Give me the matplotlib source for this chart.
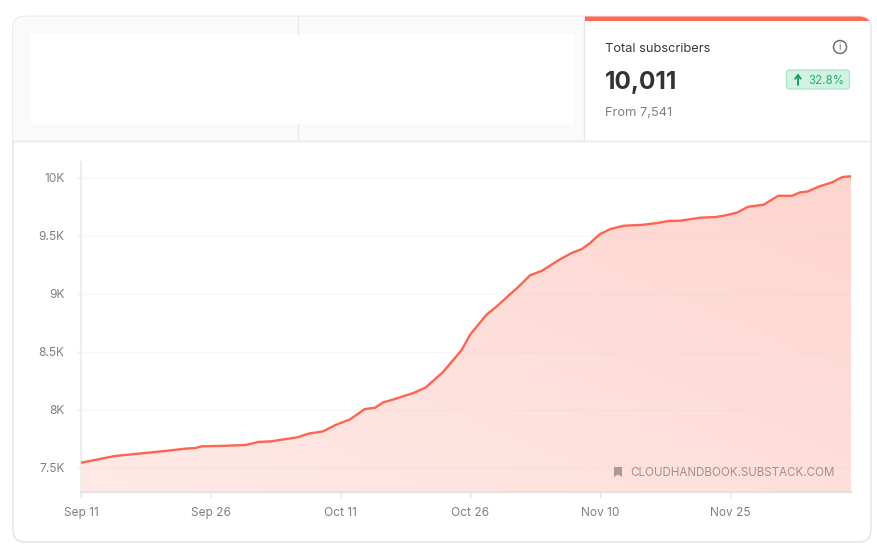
import matplotlib
matplotlib.use('Agg')
import matplotlib.pyplot as plt
from matplotlib.patches import FancyBboxPatch, Rectangle, Circle, Polygon
import numpy as np

plt.rcParams['font.family'] = ['Inter', 'DejaVu Sans']

# days since Sep 11, subscribers
days = [0, 3.9, 7, 9.7, 12, 13.2, 14, 16.3, 19, 20.5, 22, 23.2, 25, 26.3, 28, 29.4,
        31.1, 32.8, 34, 34.9, 36, 38.4, 39.8, 41.8, 44, 45, 46.9, 48, 49.4, 50.5, 51.9,
        53.3, 55.2, 56.7, 57.9, 58.8, 60, 61.2, 62.7, 65, 66.6, 67.9, 69.3, 71.6, 73.3,
        74.5, 75.8, 77.1, 78.9, 80.6, 82.2, 83.1, 84, 85.2, 86.8, 88, 89]
subs = [7541, 7599, 7622, 7642, 7662, 7668, 7683, 7686, 7694, 7720, 7726, 7740, 7760, 7792, 7812, 7866,
        7915, 8004, 8015, 8061, 8084, 8142, 8188, 8320, 8513, 8648, 8820, 8886, 8981, 9053, 9157,
        9197, 9288, 9349, 9384, 9433, 9513, 9556, 9584, 9593, 9608, 9625, 9628, 9654, 9659,
        9674, 9697, 9748, 9766, 9843, 9843, 9872, 9880, 9920, 9958, 10004, 10011]
y_ticks = [7500, 8000, 8500, 9000, 9500, 10000]
y_labels = ['7.5K', '8K', '8.5K', '9K', '9.5K', '10K']
x_ticks = [0, 15, 30, 45, 60, 75]
x_labels = ['Sep 11', 'Sep 26', 'Oct 11', 'Oct 26', 'Nov 10', 'Nov 25']

W, H = 878, 560
fig = plt.figure(figsize=(W / 100, H / 100), dpi=100, facecolor='white')

# page layer in pixel coords, y going down
bg = fig.add_axes([0, 0, 1, 1])
bg.set_xlim(0, W)
bg.set_ylim(H, 0)
bg.axis('off')

card = FancyBboxPatch((13, 16.5), 858, 525.5, boxstyle='round,pad=0,rounding_size=12',
                      fc='white', ec='#e4e4e4', lw=1.1, zorder=1)
bg.add_patch(card)

header = Rectangle((13, 16), 572, 125, fc='#fafafa', ec='none', zorder=2)
header.set_clip_path(card)
bg.add_patch(header)
bg.add_patch(Rectangle((31, 34), 543, 90, fc='white', ec='none', zorder=3))
bg.plot([298.5, 298.5], [16, 34], color='#ebebeb', lw=1, zorder=3)
bg.plot([298.5, 298.5], [124, 141], color='#ebebeb', lw=1, zorder=3)
bg.plot([13, 871], [141, 141], color='#e8e8e8', lw=1, zorder=3)
bg.plot([584.5, 584.5], [16, 141], color='#e8e8e8', lw=1, zorder=3)

strip = Rectangle((585, 16), 286, 5, fc='#ff6b57', ec='none', zorder=4)
strip.set_clip_path(card)
bg.add_patch(strip)

bg.text(605.5, 49.5, 'Total subscribers', fontsize=9.25, color='#3a3a3a', va='center', zorder=5)
bg.text(605, 82, '10,011', fontsize=17.5, fontweight='bold', color='#333333', va='center', zorder=5)
bg.text(605.5, 113.5, 'From 7,541', fontsize=9.25, color='#808080', va='center', zorder=5)

# info icon
bg.add_patch(Circle((840, 47), 6.5, fc='none', ec='#707070', lw=1.1, zorder=5))
bg.text(840, 47.5, 'i', fontsize=7.5, color='#707070', ha='center', va='center', zorder=6)

# change badge
bg.add_patch(FancyBboxPatch((786.5, 70), 63, 19, boxstyle='round,pad=0,rounding_size=3',
                            fc='#d2f3e4', ec='#a9e7ca', lw=1, zorder=5))
bg.annotate('', xy=(798, 73.5), xytext=(798, 85), zorder=6,
            arrowprops=dict(arrowstyle='->,head_width=0.2,head_length=0.26', color='#1f9d68', lw=1.4,
                            shrinkA=0, shrinkB=0))
bg.text(808.5, 81, '32.8%', fontsize=8.4, color='#2aad76', va='center', zorder=6)

# chart, x 81-851 and y 162-491.5 in pixels
ax = fig.add_axes([81 / W, 1 - 491.5 / H, 770 / W, 329.5 / H], facecolor='none', zorder=2)
ax.set_xlim(0, 89)
ax.set_ylim(7293, 10134)

grad_x, grad_y = np.meshgrid(np.linspace(0, 1, 200), np.linspace(0, 1, 120))
grad = (grad_x + grad_y) / 2
c0 = np.array([254, 234, 231]) / 255
c1 = np.array([255, 212, 206]) / 255
rgb = c0 + (c1 - c0) * grad[..., None]
fill = ax.fill_between(days, subs, 7293, color='none')
img = ax.imshow(rgb, extent=[0, 89, 7293, 10134], origin='lower', aspect='auto', zorder=1)
img.set_clip_path(fill.get_paths()[0], ax.transData)
ax.set_xlim(0, 89)
ax.set_ylim(7293, 10134)

ax.set_yticks(y_ticks)
ax.set_yticklabels(y_labels)
ax.set_xticks(x_ticks)
ax.set_xticklabels(x_labels)
ax.grid(axis='y', color='#d8d8d8', alpha=0.2, lw=1, zorder=2)
ax.set_axisbelow(False)
ax.tick_params(axis='y', length=3, width=1, color='#eeeeee', labelsize=8.6, labelcolor='#808080', pad=9)
ax.tick_params(axis='x', length=4, width=1, color='#e4e4e4', labelsize=8.6, labelcolor='#808080', pad=7)
for s in ['top', 'right']:
    ax.spines[s].set_visible(False)
ax.spines['left'].set_color('#eeeeee')
ax.spines['left'].set_linewidth(1.6)
ax.spines['bottom'].set_color('#e6e2e2')
ax.spines['bottom'].set_linewidth(1.6)

ax.plot(days, subs, color='#ff6450', lw=1.7, zorder=4, solid_capstyle='butt', clip_on=False)

# watermark on top of the fill
fg = fig.add_axes([0, 0, 1, 1], facecolor='none', zorder=3)
fg.set_xlim(0, W)
fg.set_ylim(H, 0)
fg.axis('off')
fg.add_patch(Polygon([(614, 467), (622, 467), (622, 477), (618, 474.5), (614, 477)], fc='#a89a98', ec='none'))
fg.text(630.5, 473.5, 'CLOUDHANDBOOK.SUBSTACK.COM', fontsize=8.35, color='#a0928f', va='center')

fig.savefig('out.png', dpi=100)
